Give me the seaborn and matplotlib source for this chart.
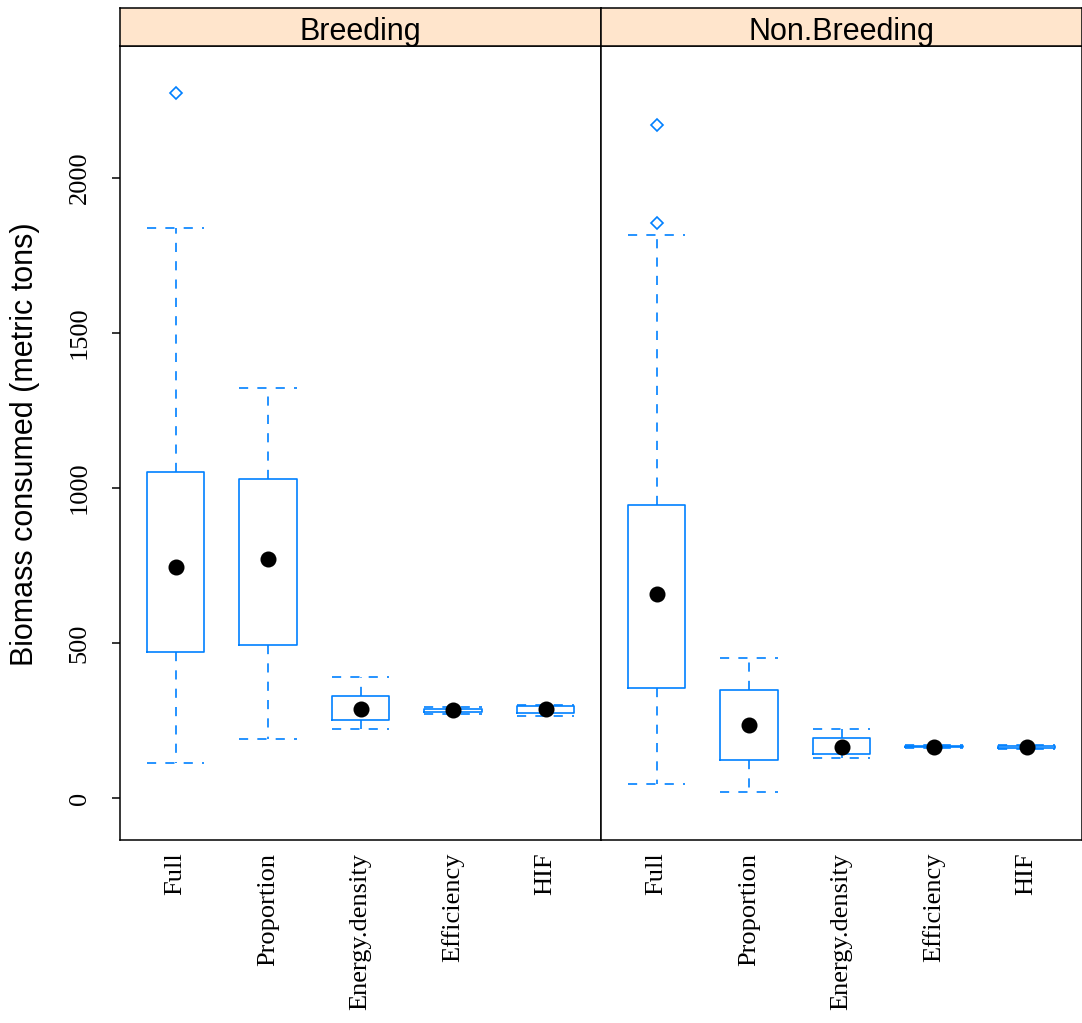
import numpy as np
import pandas as pd
import seaborn as sns
import matplotlib.pyplot as plt


sns.set_style("white")
plt.rcParams["font.family"] = ["Liberation Sans", "DejaVu Sans"]
plt.rcParams["text.color"] = "black"
plt.rcParams["xtick.color"] = "black"
plt.rcParams["ytick.color"] = "black"

BLUE = "#0080ff"

methods = ["Full", "Proportion", "Energy.density", "Efficiency", "HIF"]
seasons = ["Breeding", "Non.Breeding"]

# box statistics (metric tons)
breed_lo = [113, 190, 223, 272, 265]
breed_q1 = [471, 494, 252, 278, 275]
breed_med = [745, 771, 287, 284, 287]
breed_q3 = [1052, 1029, 329, 289, 296]
breed_hi = [1839, 1323, 390, 295, 302]
breed_out = [[2274], [], [], [], []]

nonbreed_lo = [45, 19, 129, 163, 160]
nonbreed_q1 = [355, 123, 142, 164, 162]
nonbreed_med = [658, 235, 165, 166, 165]
nonbreed_q3 = [945, 348, 194, 168, 168]
nonbreed_hi = [1815, 452, 223, 170, 170]
nonbreed_out = [[1855, 2171], [], [], [], []]

stats = {
    "Breeding": (breed_lo, breed_q1, breed_med, breed_q3, breed_hi, breed_out),
    "Non.Breeding": (nonbreed_lo, nonbreed_q1, nonbreed_med, nonbreed_q3,
                     nonbreed_hi, nonbreed_out),
}


def expand(lo, q1, med, q3, hi, out, k=20):
    # sample whose quartiles / whiskers / fliers equal the given stats
    return [lo] + [q1] * k + [med] * k + [q3] * k + [hi] + list(out)


rows = []
for season in seasons:
    lo, q1, med, q3, hi, out = stats[season]
    for i, m in enumerate(methods):
        for v in expand(lo[i], q1[i], med[i], q3[i], hi[i], out[i]):
            rows.append((season, m, v))
data = pd.DataFrame(rows, columns=["season", "method", "biomass"])

W, H = 1082, 1023
fig = plt.figure(figsize=(W / 100, H / 100), dpi=100)

left, pw = 120 / W, 481 / W
bottom, top, strip_top = 1 - 840 / H, 1 - 46 / H, 1 - 8 / H

dash = (0, (5.5, 5.5))
for j, season in enumerate(seasons):
    x0 = left + j * pw
    ax = fig.add_axes([x0, bottom, pw, top - bottom])
    sub = data[data["season"] == season]
    sns.boxplot(
        data=sub, x="method", y="biomass", order=methods, ax=ax,
        width=0.62, fill=False, color=BLUE, linewidth=1.2,
        whis=1.5, capwidths=0.62,
        whiskerprops=dict(linestyle=dash, color=BLUE),
        capprops=dict(linestyle=dash, color=BLUE),
        medianprops=dict(visible=False),
        flierprops=dict(marker="D", markersize=6, markerfacecolor="none",
                        markeredgecolor=BLUE, markeredgewidth=1.2),
    )
    sns.pointplot(
        data=sub, x="method", y="biomass", order=methods, ax=ax,
        estimator="median", errorbar=None, linestyle="none",
        color="black", marker="o", markersize=9.5,
    )
    ax.set_xlim(-0.6, 4.6)
    ax.set_ylim(-135, 2426)
    ax.set_xlabel("")
    ax.set_ylabel("")
    for s in ax.spines.values():
        s.set_color("black")
        s.set_linewidth(1.1)
        s.set_visible(True)
    ax.tick_params(axis="x", length=0, pad=9)
    for lab in ax.get_xticklabels():
        lab.set_rotation(90)
        lab.set_va("top")
        lab.set_family("Liberation Serif")
        lab.set_fontsize(19)
    if j == 0:
        ax.set_yticks([0, 500, 1000, 1500, 2000])
        ax.tick_params(axis="y", direction="out", length=6, width=1.1,
                       color="black", left=True, pad=15)
        for lab in ax.get_yticklabels():
            lab.set_rotation(90)
            lab.set_va("center")
            lab.set_family("Liberation Serif")
            lab.set_fontsize(19)
    else:
        ax.set_yticks([0, 500, 1000, 1500, 2000])
        ax.tick_params(axis="y", left=False, labelleft=False)

    sax = fig.add_axes([x0, top, pw, strip_top - top])
    sax.set_facecolor("#ffe5cc")
    sax.set_xticks([])
    sax.set_yticks([])
    for s in sax.spines.values():
        s.set_color("black")
        s.set_linewidth(1.1)
    sax.text(0.5, 0.36, season, ha="center", va="center", fontsize=22,
             color="black", transform=sax.transAxes)

fig.text(25 / W, 1 - 444 / H, "Biomass consumed (metric tons)", rotation=90,
         ha="center", va="center", fontsize=22, color="black")

fig.savefig("out.png", dpi=100)
